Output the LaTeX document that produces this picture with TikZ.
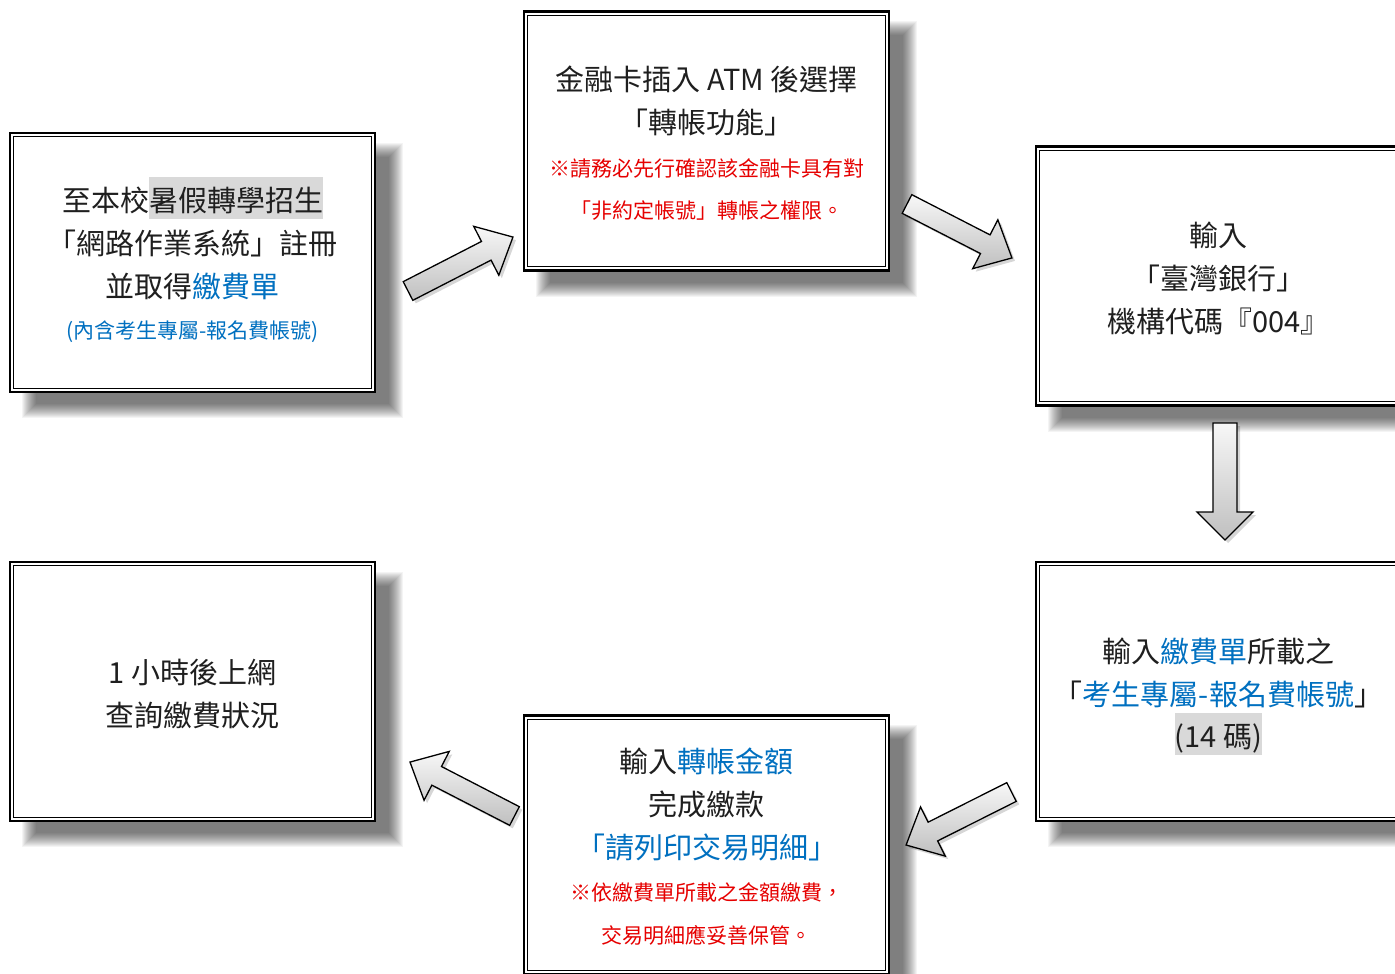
\documentclass[tikz,border=0pt]{standalone}
\usepackage{fontspec}
\setmainfont{Noto Sans CJK TC}
\definecolor{txtblue}{HTML}{0070C0}
\definecolor{txtred}{HTML}{E60000}
\definecolor{hlgray}{HTML}{D9D9D9}
\pgfdeclarelayer{bg}
\pgfsetlayers{bg,main}
\newcommand{\hlbox}[1]{{\setlength{\fboxsep}{0pt}\colorbox{hlgray}{\rule[-8pt]{0pt}{42pt}#1}}}
\tikzset{
  panelbox/.style={draw=black, line width=2.6pt, fill=white, minimum width=365pt, minimum height=259pt, inner sep=0pt},
  panelinner/.style={draw=black, line width=0.9pt},
  bigline/.style={font=\fontsize{29}{35}\selectfont, inner sep=0pt, anchor=base, text=black!88},
  smallline/.style={font=\fontsize{21}{26}\selectfont, inner sep=0pt, anchor=base},
  arrowbody/.style={draw=black, line width=1.3pt, top color=gray!6, bottom color=gray!50},
  arrowshade/.style={fill=black, opacity=0.16},
}
\newcommand{\panelshadow}[1]{%
  \begin{pgfonlayer}{bg}
    \foreach \d in {-7,-6,...,7}{
      \fill[black, opacity=0.042] ([shift={(20+\d,18+\d)}]#1.north west) rectangle ([shift={(20-\d,18-\d)}]#1.south east);
    }
  \end{pgfonlayer}}
\newcommand{\panelframe}[1]{%
  \draw[panelinner] ([shift={(5,5)}]#1.north west) rectangle ([shift={(-5,-5)}]#1.south east);}
% #1 tail coordinate, #2 angle, #3 length, #4 shaft half width, #5 head half width, #6 head length
\newcommand{\blockarrow}[6]{%
  \begin{scope}[shift={(#1)}, shift={(3,3)}, rotate=#2]
    \path[arrowshade] (0,#4) -- ({#3-#6},#4) -- ({#3-#6},#5) -- (#3,0) -- ({#3-#6},-#5) -- ({#3-#6},-#4) -- (0,-#4) -- cycle;
  \end{scope}
  \begin{scope}[shift={(#1)}, rotate=#2]
    \path[arrowbody] (0,#4) -- ({#3-#6},#4) -- ({#3-#6},#5) -- (#3,0) -- ({#3-#6},-#5) -- ({#3-#6},-#4) -- (0,-#4) -- cycle;
  \end{scope}}
\begin{document}
\begin{tikzpicture}[x=1pt, y=-1pt]
\useasboundingbox (0,0) rectangle (1395,974);
\begin{pgfonlayer}{bg}
\fill[white] (0,0) rectangle (1395,974);
\end{pgfonlayer}

% panels
\node[panelbox] (b1) at (192.5,262.5) {};
\node[panelbox] (b2) at (706.5,141) {};
\node[panelbox] (b3) at (1218.5,276) {};
\node[panelbox] (b4) at (1218.5,691.5) {};
\node[panelbox] (b5) at (706.5,845) {};
\node[panelbox] (b6) at (192.5,691.5) {};
\foreach \b in {b1,b2,b3,b4,b5,b6}{\panelshadow{\b}\panelframe{\b}}

% texts, panel 1
\node[bigline] (t11) at (192.5,211) {至本校\hlbox{暑假轉學招生}};
\node[bigline] (t12) at (192.5,254) {「網路作業系統」註冊};
\node[bigline] (t13) at (192.5,297) {並取得\textcolor{txtblue}{繳費單}};
\node[smallline, text=txtblue] (t14) at (192.5,338) {(內含考生專屬-報名費帳號)};

% panel 2
\node[bigline] (t21) at (706.5,90) {金融卡插入 ATM 後選擇};
\node[bigline] (t22) at (706.5,133) {「轉帳功能」};
\node[smallline, text=txtred] (t23) at (706.5,176) {※請務必先行確認該金融卡具有對};
\node[smallline, text=txtred] (t24) at (706.5,218) {「非約定帳號」轉帳之權限。};

% panel 3
\node[bigline] (t31) at (1218.5,246) {輸入};
\node[bigline] (t32) at (1218.5,289) {「臺灣銀行」};
\node[bigline] (t33) at (1218.5,332) {機構代碼『004』};

% panel 4
\node[bigline] (t41) at (1218.5,662) {輸入\textcolor{txtblue}{繳費單}所載之};
\node[bigline] (t42) at (1218.5,705) {「\textcolor{txtblue}{考生專屬-報名費帳號}」};
\node[bigline] (t43) at (1218.5,747) {\hlbox{(14 碼)}};

% panel 5
\node[bigline] (t51) at (706.5,772) {輸入\textcolor{txtblue}{轉帳金額}};
\node[bigline] (t52) at (706.5,815) {完成繳款};
\node[bigline, text=txtblue] (t53) at (706.5,858) {「請列印交易明細」};
\node[smallline, text=txtred] (t54) at (706.5,900) {※依繳費單所載之金額繳費，};
\node[smallline, text=txtred] (t55) at (706.5,943) {交易明細應妥善保管。};

% panel 6
\node[bigline] (t61) at (192.5,683) {1 小時後上網};
\node[bigline] (t62) at (192.5,726) {查詢繳費狀況};

% block arrows
\coordinate (a1) at (408,291);
\coordinate (a2) at (907,204);
\coordinate (a3) at (1225,423);
\coordinate (a4) at (1011.5,792);
\coordinate (a5) at (514.5,816);
\blockarrow{a1}{27.2}{118}{10.5}{27.5}{30}
\blockarrow{a2}{-27.2}{118}{10.5}{27.5}{30}
\blockarrow{a3}{-90}{117}{12}{28}{28}
\blockarrow{a4}{206.7}{118}{10.5}{27.5}{30}
\blockarrow{a5}{152.7}{117.6}{10.5}{27.5}{30}
\end{tikzpicture}
\end{document}
